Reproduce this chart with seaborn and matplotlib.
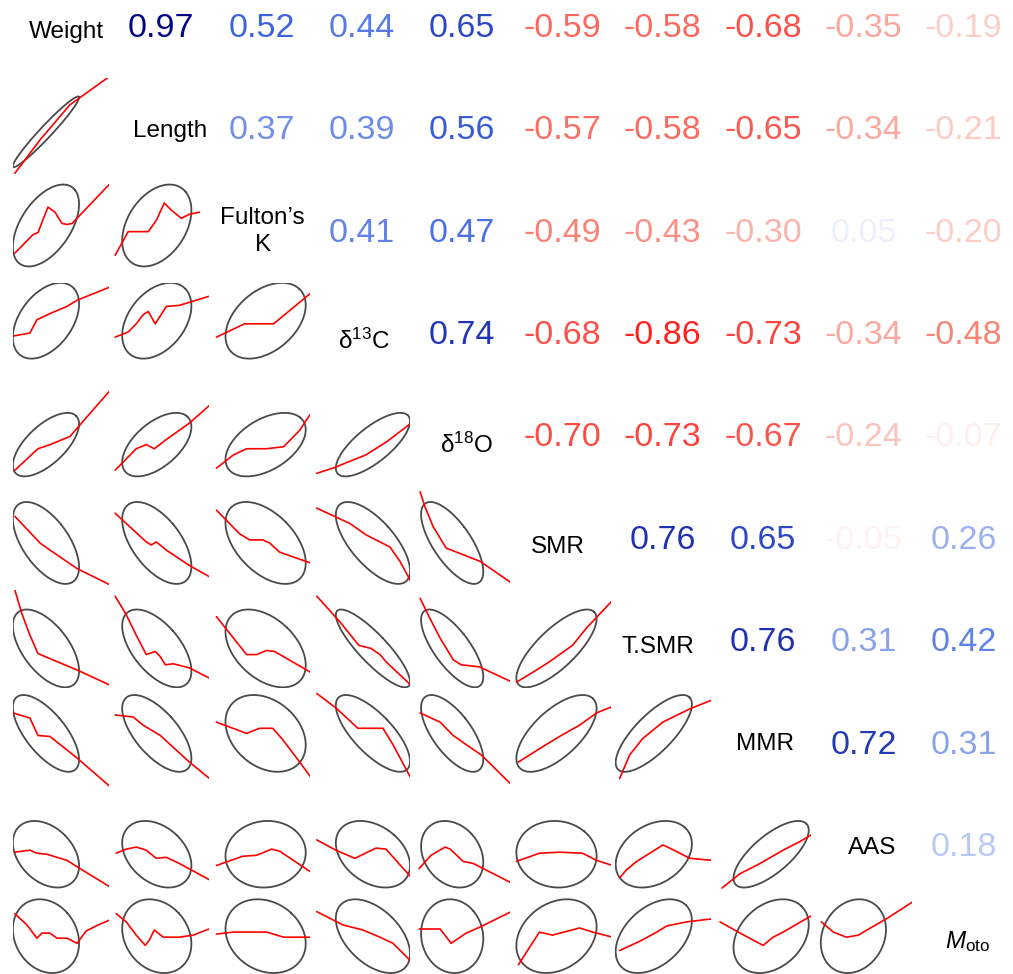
import numpy as np
import matplotlib
matplotlib.use("Agg")
import matplotlib.pyplot as plt
import seaborn as sns
from matplotlib.colors import LinearSegmentedColormap

# ---------------- data ----------------
variables = ["Weight", "Length", "Fulton\u2019s\nK", "\u03b4$^{\\mathregular{13}}$C",
             "\u03b4$^{\\mathregular{18}}$O", "SMR", "T.SMR", "MMR", "AAS",
             "$\\mathit{M}_{\\mathregular{oto}}$"]

# upper-triangle correlations, row by row
corr_Weight = [0.97, 0.52, 0.44, 0.65, -0.59, -0.58, -0.68, -0.35, -0.19]
corr_Length = [0.37, 0.39, 0.56, -0.57, -0.58, -0.65, -0.34, -0.21]
corr_Fulton = [0.41, 0.47, -0.49, -0.43, -0.30, 0.05, -0.20]
corr_d13C = [0.74, -0.68, -0.86, -0.73, -0.34, -0.48]
corr_d18O = [-0.70, -0.73, -0.67, -0.24, -0.07]
corr_SMR = [0.76, 0.65, -0.05, 0.26]
corr_TSMR = [0.76, 0.31, 0.42]
corr_MMR = [0.72, 0.31]
corr_AAS = [0.18]

# position of each variable's mean and its spread, as fraction of panel range
var_mean_pos = [0.35, 0.455, 0.54, 0.61, 0.40, 0.44, 0.41, 0.58, 0.40, 0.60]
var_spread = [0.33, 0.345, 0.40, 0.37, 0.31, 0.40, 0.38, 0.375, 0.325, 0.36]

# lowess smooths (x, y as fraction of panel range), one list per row variable
smooth_Length = [
    [(0.04, 0.05), (0.29, 0.375), (0.59, 0.72), (0.99, 1.0)],
]
smooth_Fulton = [
    [(0.04, 0.27), (0.22, 0.45), (0.27, 0.47), (0.31, 0.57), (0.37, 0.72), (0.44, 0.67),
     (0.51, 0.56), (0.56, 0.55), (0.61, 0.56), (0.99, 0.95)],
    [(0.04, 0.25), (0.17, 0.48), (0.37, 0.48), (0.45, 0.59), (0.53, 0.76), (0.60, 0.69),
     (0.70, 0.61), (0.78, 0.65), (0.88, 0.67)],
]
smooth_d13C = [
    [(0.02, 0.46), (0.19, 0.49), (0.26, 0.62), (0.39, 0.68), (0.56, 0.75), (0.66, 0.81), (0.99, 0.94)],
    [(0.04, 0.45), (0.17, 0.50), (0.25, 0.58), (0.32, 0.67), (0.37, 0.70), (0.44, 0.58),
     (0.55, 0.75), (0.68, 0.76), (0.98, 0.85)],
    [(0.05, 0.45), (0.33, 0.58), (0.62, 0.58), (0.99, 0.88)],
]
smooth_d18O = [
    [(0.04, 0.15), (0.27, 0.36), (0.39, 0.40), (0.59, 0.48), (0.66, 0.56), (0.99, 0.93)],
    [(0.04, 0.15), (0.25, 0.36), (0.35, 0.40), (0.43, 0.36), (0.55, 0.45), (0.78, 0.61), (1.0, 0.80)],
    [(0.05, 0.17), (0.22, 0.30), (0.35, 0.36), (0.55, 0.36), (0.72, 0.38), (0.88, 0.54), (0.98, 0.69)],
    [(0.05, 0.12), (0.21, 0.17), (0.54, 0.30), (0.75, 0.43), (0.99, 0.61)],
]
smooth_SMR = [
    [(0.04, 0.70), (0.29, 0.44), (0.39, 0.37), (0.66, 0.19), (0.99, 0.03)],
    [(0.04, 0.73), (0.35, 0.45), (0.40, 0.42), (0.45, 0.45), (0.55, 0.37), (0.78, 0.22), (0.98, 0.11)],
    [(0.05, 0.76), (0.28, 0.53), (0.38, 0.47), (0.51, 0.47), (0.58, 0.44), (0.68, 0.35), (1.0, 0.24)],
    [(0.05, 0.78), (0.38, 0.63), (0.54, 0.52), (0.78, 0.40), (0.88, 0.26), (0.99, 0.06)],
    [(0.08, 0.94), (0.13, 0.79), (0.21, 0.60), (0.34, 0.39), (0.68, 0.26), (0.99, 0.05)],
]
smooth_TSMR = [
    [(0.04, 0.98), (0.11, 0.75), (0.19, 0.54), (0.27, 0.36), (0.39, 0.31), (0.66, 0.20), (0.99, 0.05)],
    [(0.04, 0.92), (0.15, 0.74), (0.25, 0.54), (0.35, 0.35), (0.44, 0.38), (0.49, 0.33),
     (0.54, 0.25), (0.62, 0.26), (0.78, 0.22), (0.98, 0.12)],
    [(0.05, 0.72), (0.35, 0.35), (0.45, 0.35), (0.55, 0.39), (0.63, 0.38), (1.0, 0.17)],
    [(0.05, 0.92), (0.28, 0.67), (0.47, 0.44), (0.59, 0.41), (0.68, 0.35), (0.74, 0.28), (0.99, 0.05)],
    [(0.08, 0.90), (0.18, 0.70), (0.28, 0.51), (0.41, 0.30), (0.49, 0.25), (0.67, 0.23), (1.0, 0.08)],
    [(0.04, 0.08), (0.21, 0.18), (0.37, 0.28), (0.60, 0.44), (0.74, 0.61), (0.99, 0.87)],
]
smooth_MMR = [
    [(0.02, 0.78), (0.19, 0.73), (0.27, 0.56), (0.39, 0.55), (0.66, 0.34), (0.99, 0.06)],
    [(0.04, 0.76), (0.22, 0.74), (0.32, 0.66), (0.49, 0.56), (0.78, 0.30), (0.98, 0.14)],
    [(0.05, 0.69), (0.35, 0.58), (0.48, 0.63), (0.61, 0.63), (0.71, 0.52), (0.88, 0.30), (1.0, 0.14)],
    [(0.05, 0.97), (0.24, 0.83), (0.46, 0.63), (0.71, 0.63), (0.81, 0.47), (0.99, 0.14)],
    [(0.08, 0.78), (0.28, 0.69), (0.41, 0.56), (0.54, 0.47), (0.69, 0.37), (0.99, 0.08)],
    [(0.06, 0.30), (0.27, 0.43), (0.47, 0.55), (0.67, 0.66), (0.84, 0.78), (0.99, 0.84)],
    [(0.07, 0.14), (0.17, 0.37), (0.30, 0.53), (0.50, 0.69), (0.77, 0.82), (1.0, 0.91)],
]
smooth_AAS = [
    [(0.04, 0.42), (0.19, 0.44), (0.26, 0.41), (0.36, 0.40), (0.56, 0.34), (0.69, 0.26), (0.99, 0.08)],
    [(0.05, 0.41), (0.15, 0.45), (0.25, 0.47), (0.35, 0.44), (0.45, 0.36), (0.55, 0.37),
     (0.68, 0.31), (1.0, 0.14)],
    [(0.05, 0.29), (0.31, 0.38), (0.45, 0.39), (0.60, 0.45), (0.68, 0.43), (1.0, 0.22)],
    [(0.05, 0.54), (0.24, 0.44), (0.43, 0.36), (0.64, 0.46), (0.74, 0.45), (0.995, 0.17)],
    [(0.07, 0.26), (0.19, 0.39), (0.33, 0.47), (0.38, 0.45), (0.51, 0.33), (0.61, 0.31), (0.99, 0.12)],
    [(0.04, 0.33), (0.27, 0.41), (0.47, 0.42), (0.70, 0.41), (0.84, 0.34), (1.0, 0.29)],
    [(0.07, 0.17), (0.14, 0.25), (0.24, 0.33), (0.37, 0.41), (0.50, 0.49), (0.57, 0.46),
     (0.67, 0.41), (0.77, 0.36), (1.0, 0.34)],
    [(0.09, 0.07), (0.27, 0.21), (0.47, 0.31), (0.70, 0.44), (0.86, 0.52), (1.0, 0.60)],
]
smooth_Moto = [
    [(0.04, 0.82), (0.16, 0.71), (0.26, 0.58), (0.31, 0.63), (0.39, 0.63), (0.46, 0.58),
     (0.56, 0.58), (0.66, 0.53), (0.75, 0.65), (0.85, 0.70), (0.99, 0.76)],
    [(0.05, 0.82), (0.15, 0.74), (0.25, 0.61), (0.34, 0.51), (0.38, 0.56), (0.43, 0.66),
     (0.52, 0.59), (0.68, 0.59), (0.82, 0.61), (1.0, 0.68)],
    [(0.05, 0.62), (0.22, 0.64), (0.55, 0.64), (0.72, 0.59), (1.0, 0.59)],
    [(0.05, 0.84), (0.31, 0.71), (0.51, 0.66), (0.68, 0.59), (0.81, 0.53), (0.995, 0.35)],
    [(0.07, 0.67), (0.28, 0.67), (0.39, 0.53), (0.54, 0.63), (0.68, 0.69), (0.99, 0.84)],
    [(0.06, 0.32), (0.27, 0.64), (0.40, 0.61), (0.67, 0.68), (0.80, 0.64), (1.0, 0.59)],
    [(0.07, 0.46), (0.27, 0.55), (0.44, 0.64), (0.54, 0.70), (0.74, 0.74), (1.0, 0.77)],
    [(0.07, 0.74), (0.27, 0.63), (0.50, 0.51), (0.60, 0.59), (0.70, 0.64), (1.0, 0.81)],
    [(0.08, 0.74), (0.20, 0.64), (0.33, 0.59), (0.45, 0.61), (0.57, 0.68), (0.73, 0.77), (1.0, 0.94)],
]

# ---------------- assemble ----------------
upper_rows = [corr_Weight, corr_Length, corr_Fulton, corr_d13C, corr_d18O,
              corr_SMR, corr_TSMR, corr_MMR, corr_AAS]
smooth_rows = [None, smooth_Length, smooth_Fulton, smooth_d13C, smooth_d18O,
               smooth_SMR, smooth_TSMR, smooth_MMR, smooth_AAS, smooth_Moto]
n = len(variables)
R = np.eye(n)
for i, row in enumerate(upper_rows):
    for k, r in enumerate(row):
        j = i + 1 + k
        R[i, j] = R[j, i] = r

sns.set_theme(style="white")
plt.rcParams["font.family"] = ["Liberation Sans", "DejaVu Sans"]
plt.rcParams["mathtext.fontset"] = "custom"
plt.rcParams["mathtext.rm"] = "Liberation Sans"
plt.rcParams["mathtext.it"] = "Liberation Sans:italic"

cmap = LinearSegmentedColormap.from_list(
    "corrgram", ["red", "salmon", "white", "royalblue", "navy"])

W, H = 1013, 974
fig = plt.figure(figsize=(W / 100, H / 100), dpi=100)

cell_w, cell_h = 100.3, 102.4
x0, y0 = 61.0, 24.8
gap = 2.0

# small nudges of the diagonal labels (pixels, +x right, +y down)
label_dx = [5, 9, 1, 2, 4, -5, -5, 2, 9, 4]
label_dy = [5, 1, -3, 7, 8, 8, 5, 0, 2, -8]

level_t = 1.0
angles = np.linspace(0, 2 * np.pi, 100)

for i in range(n):          # row
    for j in range(n):      # column
        cx = x0 + cell_w * j
        cy = y0 + cell_h * i
        left = (cx - cell_w / 2 + gap) / W
        bottom = 1 - (cy + cell_h / 2 - gap) / H
        ax = fig.add_axes([left, bottom, (cell_w - 2 * gap) / W, (cell_h - 2 * gap) / H])
        ax.set_xlim(gap / cell_w, 1 - gap / cell_w)
        ax.set_ylim(gap / cell_h, 1 - gap / cell_h)
        ax.set_axis_off()
        if i == j:
            ax.text(0.5 + label_dx[i] / cell_w, 0.5 - label_dy[i] / cell_h, variables[i],
                    ha="center", va="center_baseline",
                    fontsize=17.5, color="black", linespacing=1.3)
        elif j > i:
            r = R[i, j]
            ax.text(0.5, 0.5, f"{r:.2f}", ha="center", va="center_baseline",
                    fontsize=24.5, color=cmap((r + 1) / 2))
        else:
            r = R[i, j]
            d = np.arccos(r)
            ex = var_mean_pos[j] + level_t * var_spread[j] * np.cos(angles + d / 2)
            ey = var_mean_pos[i] + level_t * var_spread[i] * np.cos(angles - d / 2)
            sns.lineplot(x=ex, y=ey, ax=ax, sort=False, estimator=None,
                         color="#4a4a4a", linewidth=1.3)
            pts = np.array(smooth_rows[i][j])
            sns.lineplot(x=pts[:, 0], y=pts[:, 1], ax=ax, sort=False, estimator=None,
                         color="red", linewidth=1.2)
            ax.set_xlim(gap / cell_w, 1 - gap / cell_w)
            ax.set_ylim(gap / cell_h, 1 - gap / cell_h)
            ax.set_axis_off()

fig.savefig("out.png", dpi=100)
